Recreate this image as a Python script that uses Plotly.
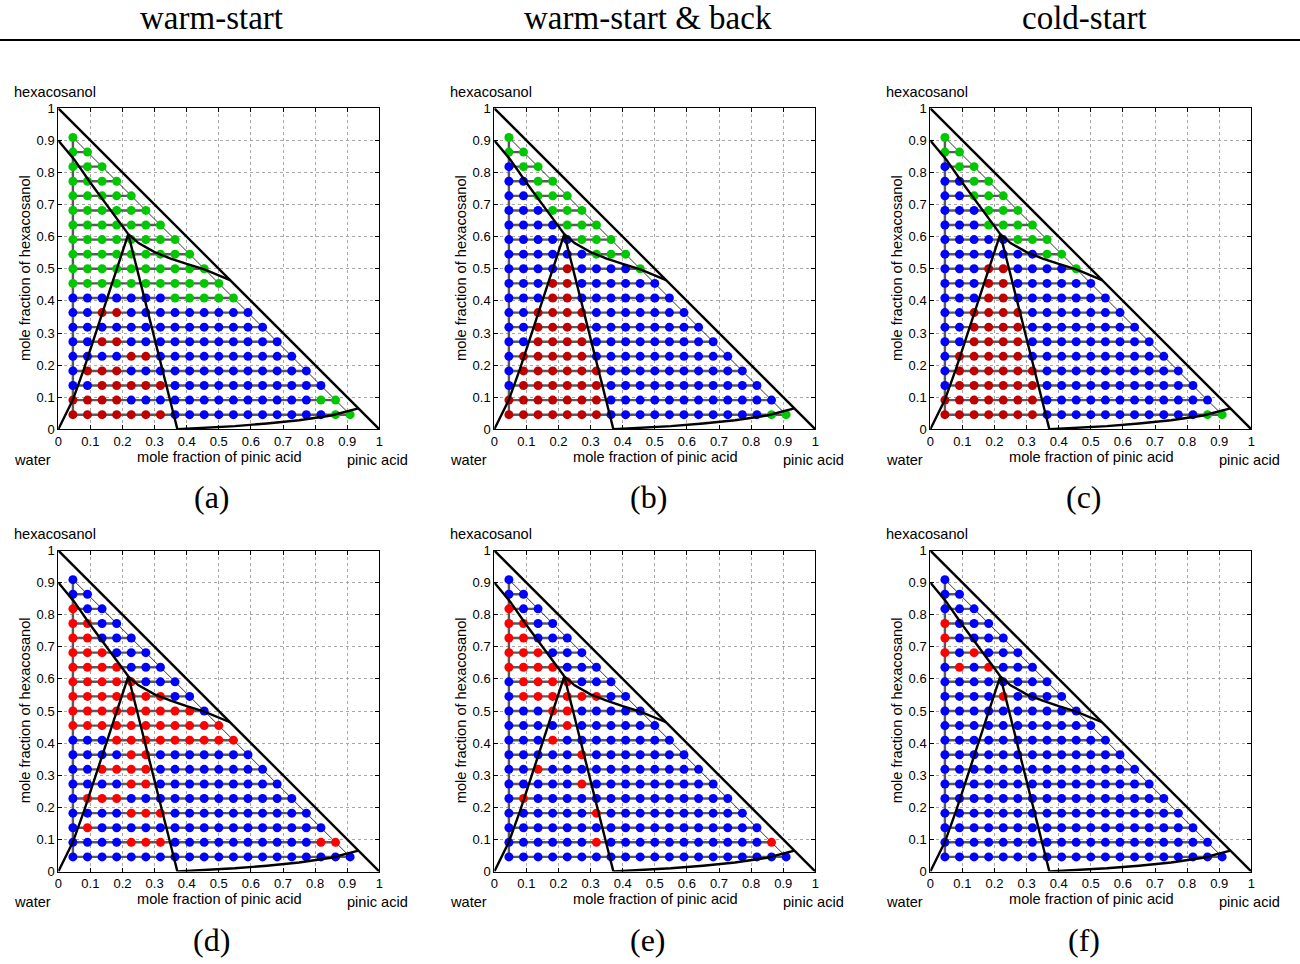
import plotly.graph_objects as go

W, H = 1300, 964

COLUMN_TITLES = ["warm-start", "warm-start &amp; back", "cold-start"]
PANEL_LABELS = ["(a)", "(b)", "(c)", "(d)", "(e)", "(f)"]
TICK_VALUES = [0, 0.1, 0.2, 0.3, 0.4, 0.5, 0.6, 0.7, 0.8, 0.9, 1]
TICK_TEXT = ["0", "0.1", "0.2", "0.3", "0.4", "0.5", "0.6", "0.7", "0.8", "0.9", "1"]
X_TITLE = "mole fraction of pinic acid"
Y_TITLE = "mole fraction of hexacosanol"
CORNER_TOP = "hexacosanol"
CORNER_LEFT = "water"
CORNER_RIGHT = "pinic acid"

# composition grid (mole fractions), shared by both axes
GRID = [0.0455, 0.0909, 0.1364, 0.1818, 0.2273, 0.2727, 0.3182, 0.3636, 0.4091,
        0.4545, 0.5, 0.5455, 0.5909, 0.6364, 0.6818, 0.7273, 0.7727, 0.8182,
        0.8636, 0.9091]

# point states per row, top row (hexacosanol = 0.909) first; row k has points at GRID[0..]
# g = green, b = blue, r = red
STATES_A = ["g", "gg", "ggg", "gggg", "ggggg", "gggggg", "ggggggg", "gggggggg",
            "ggggggggg", "gggggggggg", "ggggggggggg", "bbbbbbbggggg",
            "bbrrbbbbbbbbb", "bbbbbbbbbbbbbb", "bbrrbbbbbbbbbbb", "bbbbrrbbbbbbbbbb",
            "brrrbbbbbbbbbbbbb", "bbrrrrrbbbbbbbbbbb", "rrrrbbbbbbbbbbbbbgg",
            "rrrrrrrbbbbbbbbbbbgg"]
STATES_B = ["g", "gg", "bgg", "bbgg", "bbggg", "bbbggg", "bbbbggg", "bbbbbggg",
            "bbbbbbggg", "bbbbrbbbbg", "bbbrrbbbbbb", "bbbrrbbbbbbb",
            "bbrrrrbbbbbbb", "bbrrrrbbbbbbbb", "bbrrrrbbbbbbbbb", "brrrrrbbbbbbbbbb",
            "brrrrrrbbbbbbbbbb", "brrrrrrbbbbbbbbbbb", "rrrrrrrbbbbbbbbbbbb",
            "rrrrrrrbbbbbbbbbbbgg"]
STATES_C = ["g", "gg", "bgg", "bbgg", "bbggg", "bbbggg", "bbbgggg", "bbbbbggg",
            "bbbbbbbgg", "bbbrrbbbbg", "bbbrrbbbbbb", "bbbrrbbbbbbb",
            "bbrrrrbbbbbbb", "bbrrrrbbbbbbbb", "bbrrrrbbbbbbbbb", "brrrrrbbbbbbbbbb",
            "brrrrrrbbbbbbbbbb", "brrrrrrbbbbbbbbbbb", "rrrrrrrbbbbbbbbbbbb",
            "rrrrrrrbbbbbbbbbbbgg"]
STATES_D = ["b", "bb", "rbb", "rrbb", "rrbbb", "rrrbbb", "rrrrbbb", "rrrrrbbb",
            "rrrrrrrbb", "rrrrrrrrrb", "rrrrrrrrrrr", "bbbrrrrrrrrr",
            "bbbbrrbbbbbbb", "bbrrrrbbbbbbbb", "bbbbrrbbbbbbbbb", "brrrbbbbbbbbbbbb",
            "bbbbrrrbbbbbbbbbb", "brbbbbbbbbbbbbbbbb", "bbbbrrrbbbbbbbbbbrr",
            "bbbbbbbbbbbbbbbbbbbb"]
STATES_E = ["b", "bb", "rbb", "rrbb", "rrbbb", "rrrbbb", "rrrrbbb", "brrrrbbb",
            "brrrrrrbb", "bbbrrbbbbb", "bbbbrbbbbbb", "bbbrbbbbbbbb",
            "bbbbbrbbbbbbb", "bbrbbbbbbbbbbb", "bbbbbrbbbbbbbbb", "brbbbbbbbbbbbbbb",
            "bbbbbbrbbbbbbbbbb", "bbbbbbbbbbbbbbbbbb", "bbbbbbrbbbbbbbbbbbr",
            "bbbbbbbbbbbbbbbbbbbb"]
STATES_F = ["b", "bb", "bbb", "rbbb", "rbbbb", "rbrbbb", "brbrbbb", "bbbbbbbb",
            "bbbbrbbbb", "bbbbbbbbbb", "bbbbbbbbbbb", "bbbbbbbbbbbb",
            "bbbbbbbbbbbbb", "bbbbbbbbbbbbbb", "bbbbbbbbbbbbbbb", "bbbbbbbbbbbbbbbb",
            "bbbbbbbbbbbbbbbbb", "bbbbbbbbbbbbbbbbbb", "bbbbbbbbbbbbbbbbbbb",
            "bbbbbbbbbbbbbbbbbbbb"]
PANEL_STATES = [STATES_A, STATES_B, STATES_C, STATES_D, STATES_E, STATES_F]

# phase-boundary curves (pinic acid, hexacosanol)
EDGE_X = [0, 1]
EDGE_Y = [1, 0]
B1_X = [0, 0.05, 0.10, 0.15, 0.19, 0.218]
B1_Y = [0.9, 0.84, 0.768, 0.70, 0.648, 0.608]
B2_X = [0.218, 0.25, 0.30, 0.35, 0.40, 0.455, 0.535]
B2_Y = [0.608, 0.58, 0.552, 0.532, 0.515, 0.498, 0.465]
B3_X = [0, 0.045, 0.08, 0.123, 0.218]
B3_Y = [0, 0.091, 0.188, 0.318, 0.608]
B4_X = [0.218, 0.371]
B4_Y = [0.608, 0]
B5_X = [0.371, 0.45, 0.55, 0.65, 0.75, 0.85, 0.935]
B5_Y = [0, 0.004, 0.01, 0.018, 0.028, 0.043, 0.065]
BOUNDARIES = [(EDGE_X, EDGE_Y), (B1_X, B1_Y), (B2_X, B2_Y), (B3_X, B3_Y),
              (B4_X, B4_Y), (B5_X, B5_Y)]

TOP_COLORS = {"g": "#00c800", "b": "#0000ff", "r": "#c00000"}
BOTTOM_COLORS = {"g": "#00c800", "b": "#0000ff", "r": "#ff0000"}

# ---- layout geometry (pixels) ----
X_SPANS = [(58.3, 379.3), (494.3, 815.3), (930.3, 1251.3)]
Y_SPANS = [(108.3, 429.3), (550.5, 871.5)]


def px(x):
    return x / W


def py(y):
    return 1 - y / H


fig = go.Figure()
layout_axes = {}
annotations = []
font_sans = "Liberation Sans, Arial, sans-serif"
font_serif = "Liberation Serif, Times New Roman, serif"
PATH_GRAY = "#5a5a5a"

for p in range(6):
    col, row = p % 3, p // 3
    ax = p + 1
    xa = "x" if ax == 1 else f"x{ax}"
    ya = "y" if ax == 1 else f"y{ax}"
    x0, x1 = X_SPANS[col]
    y0, y1 = Y_SPANS[row]
    states = PANEL_STATES[p]
    colors = TOP_COLORS if row == 0 else BOTTOM_COLORS
    nrows = len(states)

    # path lines: rows (gray), left connector, right diagonal connector
    for k, s in enumerate(states):
        yv = GRID[nrows - 1 - k]
        xs = GRID[:len(s)]
        fig.add_trace(go.Scatter(x=xs, y=[yv] * len(xs), mode="lines",
                                 line=dict(color=PATH_GRAY, width=2.4),
                                 xaxis=xa, yaxis=ya, showlegend=False, hoverinfo="skip"))
    fig.add_trace(go.Scatter(x=[GRID[0]] * nrows, y=GRID[:nrows], mode="lines",
                             line=dict(color=PATH_GRAY, width=2.4),
                             xaxis=xa, yaxis=ya, showlegend=False, hoverinfo="skip"))
    ends_x = [GRID[len(s) - 1] for s in states]
    ends_y = [GRID[nrows - 1 - k] for k in range(nrows)]
    fig.add_trace(go.Scatter(x=ends_x, y=ends_y, mode="lines",
                             line=dict(color="black", width=0.8),
                             xaxis=xa, yaxis=ya, showlegend=False, hoverinfo="skip"))

    # points
    for key in ["g", "b", "r"]:
        px_list, py_list = [], []
        for k, s in enumerate(states):
            yv = GRID[nrows - 1 - k]
            for i, c in enumerate(s):
                if c == key:
                    px_list.append(GRID[i])
                    py_list.append(yv)
        if px_list:
            fig.add_trace(go.Scatter(x=px_list, y=py_list, mode="markers",
                                     marker=dict(color=colors[key], size=9, line=dict(width=0)),
                                     xaxis=xa, yaxis=ya, showlegend=False, hoverinfo="skip"))

    # boundaries
    for bx, by in BOUNDARIES:
        fig.add_trace(go.Scatter(x=bx, y=by, mode="lines",
                                 line=dict(color="black", width=2.4),
                                 xaxis=xa, yaxis=ya, showlegend=False, hoverinfo="skip"))

    axis_common = dict(range=[0, 1], tickmode="array", tickvals=TICK_VALUES,
                       ticktext=TICK_TEXT, ticks="inside", ticklen=4, tickcolor="black",
                       showline=True, linecolor="black", linewidth=1, mirror="ticks",
                       showgrid=True, gridcolor="#a8a8a8", griddash="dot", gridwidth=1,
                       zeroline=False, tickfont=dict(family=font_sans, size=13, color="black"),
                       fixedrange=True, automargin=False)
    layout_axes["xaxis" if ax == 1 else f"xaxis{ax}"] = dict(
        axis_common, domain=[px(x0), px(x1)], anchor=ya)
    layout_axes["yaxis" if ax == 1 else f"yaxis{ax}"] = dict(
        axis_common, domain=[py(y1), py(y0)], anchor=xa)

    dx = x0 - 58.3
    dy = y0 - 108.3
    tf = dict(family=font_sans, size=14.6, color="black")
    annotations += [
        dict(text=CORNER_TOP, x=px(12 + dx), y=py(92 + dy), xanchor="left", yanchor="middle",
             xref="paper", yref="paper", showarrow=False, font=tf),
        dict(text=CORNER_LEFT, x=px(12 + dx), y=py(460 + dy), xanchor="left", yanchor="middle",
             xref="paper", yref="paper", showarrow=False, font=tf),
        dict(text=CORNER_RIGHT, x=px(410 + dx), y=py(460 + dy), xanchor="right", yanchor="middle",
             xref="paper", yref="paper", showarrow=False, font=tf),
        dict(text=X_TITLE, x=px(219 + dx), y=py(457 + dy), xanchor="center", yanchor="middle",
             xref="paper", yref="paper", showarrow=False, font=tf),
        dict(text=Y_TITLE, x=px(25 + dx), y=py(268 + dy), xanchor="center", yanchor="middle",
             textangle=-90, xref="paper", yref="paper", showarrow=False, font=tf),
        dict(text=PANEL_LABELS[p], x=px(212 + 436 * col), y=py(497 + 443 * row),
             xanchor="center", yanchor="middle", xref="paper", yref="paper", showarrow=False,
             font=dict(family=font_serif, size=32, color="black")),
    ]

for c, t in enumerate(COLUMN_TITLES):
    annotations.append(dict(text=t, x=px(212 + 436 * c), y=py(18), xanchor="center",
                            yanchor="middle", xref="paper", yref="paper", showarrow=False,
                            font=dict(family=font_serif, size=33, color="black")))

fig.update_layout(
    width=W, height=H, margin=dict(l=0, r=0, t=0, b=0, autoexpand=False),
    paper_bgcolor="white", plot_bgcolor="white",
    annotations=annotations,
    shapes=[dict(type="line", xref="paper", yref="paper", x0=0, x1=1, y0=py(40), y1=py(40),
                 line=dict(color="black", width=2))],
    **layout_axes,
)

fig.write_html(
    "out.html",
    post_script="document.body.style.margin='0px';document.body.style.padding='0px';"
                "document.body.style.overflow='hidden';",
)
